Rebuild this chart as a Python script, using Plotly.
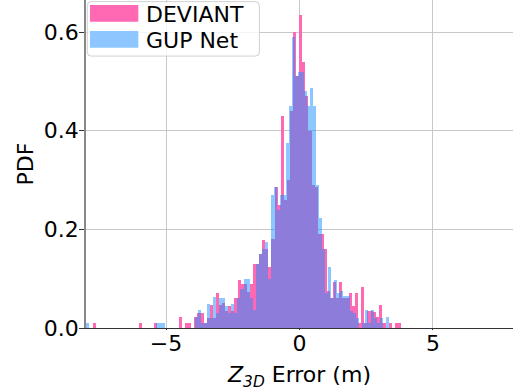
import numpy as np
import plotly.graph_objects as go

# ---- data (density per bin) ----
dev_bin_start = -7.75
dev_bin_width = 0.1155
dev_density = [
    0.01, 0, 0, 0, 0, 0, 0, 0, 0, 0,
    0, 0, 0, 0, 0, 0.01, 0, 0, 0, 0,
    0.01, 0, 0, 0, 0, 0, 0, 0, 0.022, 0,
    0.01, 0.01, 0, 0.023, 0.03, 0.03, 0.01, 0.02, 0.047, 0.02,
    0.07, 0.047, 0.05, 0.035, 0.045, 0.035, 0.06, 0.097, 0.09, 0.09,
    0.074, 0.09, 0.13, 0.13, 0.15, 0.178, 0.16, 0.124, 0.18, 0.285,
    0.25, 0.43, 0.26, 0.30, 0.44, 0.60, 0.51, 0.635, 0.54, 0.47,
    0.40, 0.29, 0.286, 0.19, 0.19, 0.16, 0.075, 0.06, 0.093, 0.06,
    0.093, 0.06, 0.06, 0.07, 0.045, 0.07, 0.01, 0.083, 0.01, 0.035,
    0.035, 0.033, 0.023, 0.047, 0.01, 0, 0.01, 0, 0.01, 0.01,
]

gup_bin_start = -8.0
gup_bin_width = 0.1135
gup_density = [
    0.01, 0, 0, 0, 0, 0, 0, 0, 0, 0,
    0, 0, 0, 0, 0, 0, 0, 0, 0, 0,
    0, 0, 0, 0.01, 0.01, 0.01, 0, 0, 0, 0,
    0, 0, 0, 0, 0, 0, 0.023, 0.036, 0.01, 0.01,
    0.048, 0.02, 0.063, 0.03, 0.06, 0.06, 0.045, 0.03, 0.048, 0.03,
    0.06, 0.08, 0.1, 0.1, 0.06, 0.036, 0.13, 0.15, 0.16, 0.175,
    0.1, 0.27, 0.285, 0.24, 0.27, 0.27, 0.375, 0.45, 0.59, 0.51,
    0.52, 0.52, 0.48, 0.45, 0.486, 0.45, 0.29, 0.223, 0.16, 0.07,
    0.124, 0.06, 0.097, 0.07, 0.075, 0.065, 0.065, 0.035, 0.03, 0.02,
    0, 0.01, 0.036, 0.01, 0.036, 0.02, 0.01, 0.02, 0, 0.022,
]

series_names = ["DEVIANT", "GUP Net"]
series_colors = ["#ff69b4", "#1e90ff"]
series_opacity = [1.0, 0.5]
legend_patch_colors = ["#ff69b4", "#8ec7ff"]
x_tick_vals = [-5, 0, 5]
x_tick_text = ["\u22125", "0", "5"]
y_tick_vals = [0.0, 0.2, 0.4, 0.6]
y_tick_text = ["0.0", "0.2", "0.4", "0.6"]

dev_x = dev_bin_start + dev_bin_width * (np.arange(len(dev_density)) + 0.5)
gup_x = gup_bin_start + gup_bin_width * (np.arange(len(gup_density)) + 0.5)

FONT = "DejaVu Sans"

fig = go.Figure()
fig.add_trace(go.Bar(
    x=dev_x, y=dev_density, width=dev_bin_width, name=series_names[0],
    marker=dict(color=series_colors[0], line=dict(width=0)), opacity=series_opacity[0],
))
fig.add_trace(go.Bar(
    x=gup_x, y=gup_density, width=gup_bin_width, name=series_names[1],
    marker=dict(color=series_colors[1], line=dict(width=0)), opacity=series_opacity[1],
))

# ---- legend drawn in paper coordinates (matplotlib-style box) ----
def rounded_rect(x0, y0, x1, y1, rx, ry):
    return (f"M {x0+rx},{y0} L {x1-rx},{y0} Q {x1},{y0} {x1},{y0+ry} "
            f"L {x1},{y1-ry} Q {x1},{y1} {x1-rx},{y1} L {x0+rx},{y1} "
            f"Q {x0},{y1} {x0},{y1-ry} L {x0},{y0+ry} Q {x0},{y0} {x0+rx},{y0} Z")

shapes = [dict(
    type="path", xref="paper", yref="paper", layer="above",
    path=rounded_rect(0.003, 0.829, 0.406, 0.995, 0.009, 0.012),
    fillcolor="rgba(255,255,255,0.8)", line=dict(color="#d0d0d0", width=1),
)]
patch_y = [(0.934, 0.985), (0.8546, 0.9055)]
text_y = [0.957, 0.878]
annotations = []
for name, col, (py0, py1), ty in zip(series_names, legend_patch_colors, patch_y, text_y):
    shapes.append(dict(type="rect", xref="paper", yref="paper", layer="above",
                       x0=0.0094, x1=0.1225, y0=py0, y1=py1,
                       fillcolor=col, line=dict(width=0)))
    annotations.append(dict(text=name, xref="paper", yref="paper", x=0.135, y=ty,
                            xanchor="left", yanchor="middle", showarrow=False,
                            font=dict(family=FONT, size=22, color="black")))

fig.update_layout(
    width=513, height=391,
    margin=dict(l=86, r=0, t=0, b=63),
    barmode="overlay", bargap=0,
    plot_bgcolor="white", paper_bgcolor="white",
    font=dict(family=FONT, size=22, color="black"),
    showlegend=False,
    shapes=shapes, annotations=annotations,
    xaxis=dict(
        range=[-8, 8], tickmode="array", tickvals=x_tick_vals, ticktext=x_tick_text,
        showgrid=True, gridcolor="#c8c8c8", gridwidth=1,
        showline=True, linecolor="#333", linewidth=1.2,
        ticks="outside", ticklen=1, tickcolor="#333",
        tickfont=dict(size=22), zeroline=False, ticklabelstandoff=-6,
        title=dict(text="<i>Z</i><sub><i>3D</i></sub> Error (m)", font=dict(size=22), standoff=14),
        automargin=False,
    ),
    yaxis=dict(
        range=[0, 0.665], tickmode="array", tickvals=y_tick_vals, ticktext=y_tick_text,
        showgrid=True, gridcolor="#c8c8c8", gridwidth=1,
        showline=True, linecolor="#888", linewidth=1.5,
        ticks="outside", ticklen=5, tickcolor="#333",
        tickfont=dict(size=22), zeroline=False, ticklabelstandoff=-4,
        title=dict(text="PDF", font=dict(size=22), standoff=4),
        automargin=False,
    ),
)

fig.write_html("out.html", config={"displayModeBar": False},
               post_script="document.body.style.margin='0';")
